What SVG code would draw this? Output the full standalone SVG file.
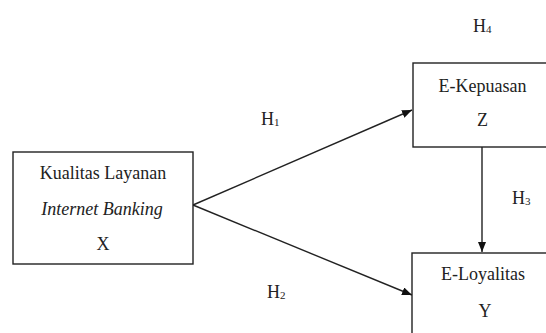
<svg xmlns="http://www.w3.org/2000/svg" width="546" height="333" viewBox="0 0 546 333">
<defs>
<marker id="ah" viewBox="0 0 10 8" refX="10" refY="4" markerWidth="10" markerHeight="8" markerUnits="userSpaceOnUse" orient="auto">
<path d="M0,0 L10,4 L0,8 Z" fill="#111"/>
</marker>
</defs>
<rect width="546" height="333" fill="#fff"/>
<g id="connectors" stroke="#222" stroke-width="1.4" fill="none">
<line x1="193" y1="205" x2="412" y2="110" marker-end="url(#ah)"/>
<line x1="193" y1="205" x2="412" y2="295" marker-end="url(#ah)"/>
<line x1="482" y1="147" x2="482" y2="252" marker-end="url(#ah)"/>
</g>
<g id="nodeX">
<rect fill="#fff" stroke="#222" stroke-width="1.4" x="13" y="152" width="180" height="112"/>
<text font-family="Liberation Serif" font-size="18" fill="#222" text-anchor="middle" x="103" y="179">Kualitas Layanan</text>
<text font-family="Liberation Serif" font-size="18" fill="#222" text-anchor="middle" x="102" y="215" font-style="italic">Internet Banking</text>
<text font-family="Liberation Serif" font-size="18" fill="#222" text-anchor="middle" x="103" y="250">X</text>
</g>
<g id="nodeZ">
<rect fill="#fff" stroke="#222" stroke-width="1.4" x="413" y="63" width="150" height="84"/>
<text font-family="Liberation Serif" font-size="18" fill="#222" text-anchor="middle" x="482.5" y="92">E-Kepuasan</text>
<text font-family="Liberation Serif" font-size="18" fill="#222" text-anchor="middle" x="482.5" y="126">Z</text>
</g>
<g id="nodeY">
<rect fill="#fff" stroke="#222" stroke-width="1.4" x="412" y="253" width="150" height="100"/>
<text font-family="Liberation Serif" font-size="18" fill="#222" text-anchor="middle" x="483" y="280">E-Loyalitas</text>
<text font-family="Liberation Serif" font-size="18" fill="#222" text-anchor="middle" x="485" y="317">Y</text>
</g>
<g id="labels">
<text font-family="Liberation Serif" font-size="18" fill="#222" x="261" y="125">H<tspan font-size="11" dy="1">1</tspan></text>
<text font-family="Liberation Serif" font-size="18" fill="#222" x="267" y="298">H<tspan font-size="11" dy="1">2</tspan></text>
<text font-family="Liberation Serif" font-size="18" fill="#222" x="512" y="204">H<tspan font-size="11" dy="1">3</tspan></text>
<text font-family="Liberation Serif" font-size="18" fill="#222" x="473" y="32">H<tspan font-size="11" dy="1">4</tspan></text>
</g>
</svg>
